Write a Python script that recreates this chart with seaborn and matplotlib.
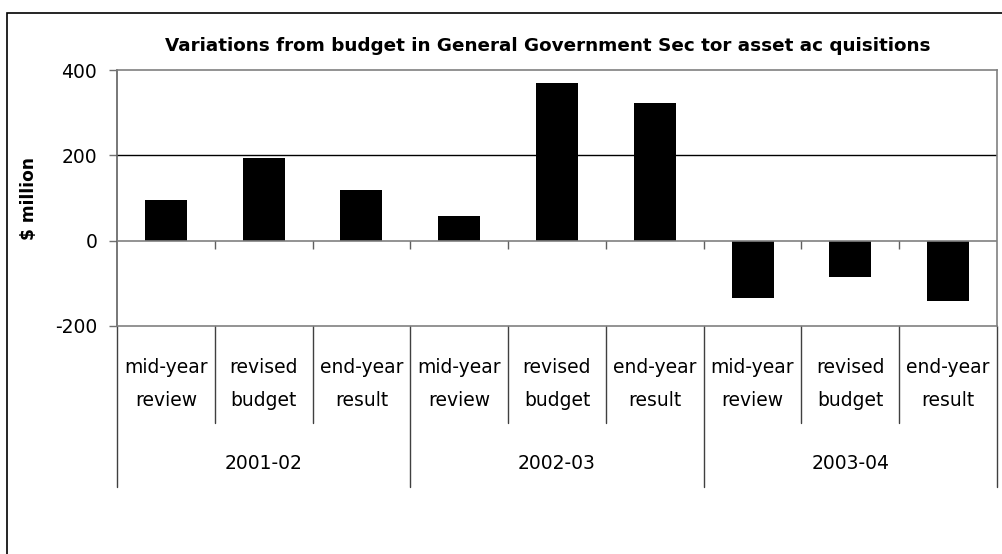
import matplotlib
matplotlib.use("Agg")
import matplotlib.pyplot as plt
import matplotlib.transforms as mtransforms
from matplotlib.patches import Rectangle
import seaborn as sns
import pandas as pd

# Chart data
years = ["2001-02", "2002-03", "2003-04"]
stages = ["mid-year\nreview", "revised\nbudget", "end-year\nresult"]
variations = [95, 194, 119, 58, 371, 324, -134, -86, -143]
y_ticks = [-200, 0, 200, 400]

title = "Variations from budget in General Government Sec tor asset ac quisitions"
y_label = "$ million"

sns.set_theme(style="white")
plt.rcParams["font.family"] = ["DejaVu Sans"]
plt.rcParams["text.color"] = "black"
plt.rcParams["axes.labelcolor"] = "black"
plt.rcParams["ytick.color"] = "black"

keys = [f"{y} {s}" for y in years for s in stages]
df = pd.DataFrame({"key": keys, "value": variations})

fig = plt.figure(figsize=(10.03, 5.54), dpi=100)
ax = fig.add_axes([117 / 1003, 1 - 325.7 / 554, 880 / 1003, 255.4 / 554])

sns.barplot(data=df, x="key", y="value", order=keys, color="black",
            width=0.43, saturation=1, edgecolor="black", linewidth=0, ax=ax)

ax.set_ylim(-200, 400)
ax.set_xlim(-0.5, len(keys) - 0.5)
ax.set_yticks(y_ticks)
ax.set_yticklabels([str(v) for v in y_ticks], fontsize=13.5, color="black")
ax.tick_params(axis="y", direction="out", length=5.8, width=1, color="#707070",
               pad=8.5, left=True, labelcolor="black")
ax.set_xticks([])
ax.set_xlabel("")
ax.set_ylabel(y_label, fontsize=12.3, fontweight="bold", labelpad=12,
              color="black")
ax.grid(False)

for side in ["left", "right", "top", "bottom"]:
    ax.spines[side].set_visible(True)
    ax.spines[side].set_color("#808080")
    ax.spines[side].set_linewidth(1.2)
ax.spines["left"].set_color("#606060")

# Gridline at 200, zero baseline with category ticks
ax.axhline(200, color="black", lw=1.0, zorder=0)
ax.axhline(0, color="#808080", lw=1.2, zorder=3)
bounds = [i - 0.5 for i in range(len(keys) + 1)]
ax.vlines(bounds[1:-1], -19, 0, color="#606060", lw=1.0, zorder=3)

ax.set_title(title, fontsize=13.25, fontweight="bold", pad=14, color="black",
             x=0.49)

# Multi-level category axis below the plot area
trans = mtransforms.blended_transform_factory(ax.transData, ax.transAxes)
for i, b in enumerate(bounds):
    bottom = -0.632 if i % 3 == 0 else -0.381
    ax.plot([b, b], [0, bottom], transform=trans, color="#404040", lw=1.0,
            clip_on=False)
for i, s in enumerate(stages * len(years)):
    ax.text(i, -0.228, s, transform=trans, ha="center", va="center",
            fontsize=13.5, linespacing=1.95, color="black")
for g, yr in enumerate(years):
    ax.text(g * 3 + 1, -0.54, yr, transform=trans, ha="center", va="center",
            fontsize=13.5, color="black")

# Outer chart border
fig.patches.append(Rectangle((7.5 / 1003, -0.1), 1.2, 1.1 - 12.5 / 554,
                             transform=fig.transFigure, fill=False,
                             edgecolor="black", lw=1.2, zorder=0))

fig.savefig("out.png", dpi=100)
